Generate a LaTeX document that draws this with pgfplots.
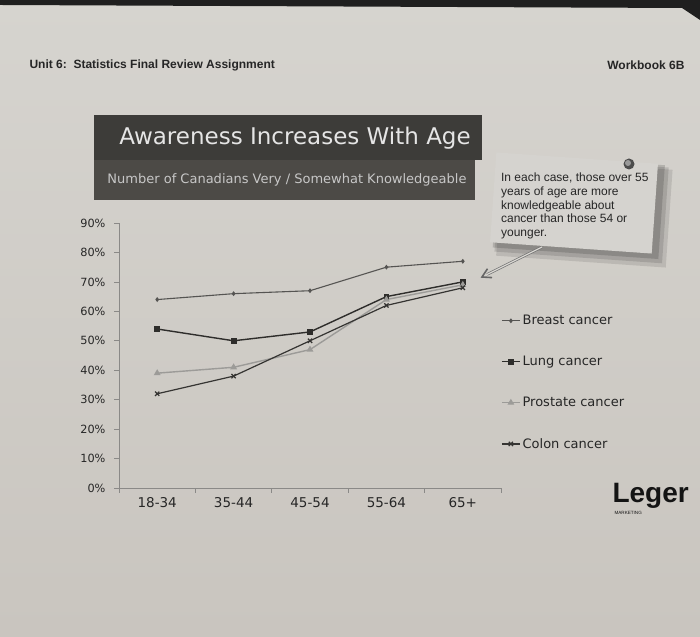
\documentclass[border=0pt]{standalone}
\usepackage{fontspec}
\setmainfont{DejaVu Sans}
\newfontfamily\lib{Liberation Sans}
\usepackage{pgfplots}
\pgfplotsset{compat=1.18}

\definecolor{paperTop}{HTML}{D6D4CF}
\definecolor{paperBot}{HTML}{C9C5BF}
\definecolor{axisgray}{HTML}{8A8987}
\definecolor{textc}{HTML}{262626}
\definecolor{titlebg}{HTML}{3D3C39}
\definecolor{subbg}{HTML}{4C4A46}
\definecolor{notebg}{HTML}{D5D3CF}
\definecolor{breastc}{HTML}{555452}
\definecolor{lungc}{HTML}{2E2D2B}
\definecolor{prostc}{HTML}{9C9B98}
\definecolor{colonc}{HTML}{353432}

\pgfplotstableread{
x breast lung prostate colon
0 64 54 39 32
1 66 50 41 38
2 67 53 47 50
3 75 65 64 62
4 77 70 69 68
}\awareness

\begin{document}
\begin{tikzpicture}[x=1pt,y=1pt]
% paper
\shade[top color=paperTop, bottom color=paperBot] (0,0) rectangle (700,636);
\fill[black!88] (0,636) -- (700,636) -- (700,616) -- (682,628) -- (0,631) -- cycle;

% page header
\node[anchor=west, font=\lib\bfseries\fontsize{12}{14}\selectfont, text=black!85] at (26,571) {Unit 6:\ \ Statistics Final Review Assignment};
\node[anchor=east, font=\lib\bfseries\fontsize{12}{14}\selectfont, text=black!85] at (688,571) {Workbook 6B};

% title band
\fill[titlebg] (94,521) rectangle (482,476);
\fill[subbg] (94,476) rectangle (475,436);
\node[font=\fontsize{23}{26}\selectfont, text=white!90!black] at (295,498) {Awareness Increases With Age};
\node[font=\fontsize{13}{15}\selectfont, text=white!78!black] at (287,456) {Number of Canadians Very / Somewhat Knowledgeable};

% note card
\begin{scope}[shift={(574,433)}, rotate=-4]
  \fill[black, opacity=0.10] (-74,-58) rectangle (96,40);
  \fill[black, opacity=0.12] (-76,-54) rectangle (92,42);
  \fill[black, opacity=0.15] (-78,-50) rectangle (88,44);
  \fill[notebg] (-81,-45) rectangle (81,45);
  \node[anchor=north west, align=left, inner sep=0pt, text=textc,
        font=\lib\fontsize{12}{13.7}\selectfont] at (-75,25)
    {In each case, those over 55\\years of age are more\\knowledgeable about\\cancer than those 54 or\\younger.};
\end{scope}
\fill[black!70] (629,472) circle (5.5);
\fill[black!40] (628,473) circle (3);
\draw[black!55, line width=0.7pt, double=paperTop, double distance=1.2pt] (542,389) -- (487,361.5);
\draw[black!60, line width=1.6pt] (487.5,367.3) -- (482,359) -- (492,358.4);

% logo
\node[anchor=west, font=\lib\bfseries\fontsize{28}{30}\selectfont, text=black!92] at (609,140) {Leger};
\node[anchor=west, font=\lib\fontsize{4.6}{5}\selectfont, text=black!92] at (611,123) {MARKETING};

\begin{axis}[
  at={(119pt,148pt)}, anchor=south west,
  scale only axis, width=382pt, height=265pt,
  xmin=-0.5, xmax=4.5, ymin=0, ymax=90,
  clip=false,
  axis x line=bottom, axis y line=left,
  axis line style={-, axisgray, line width=0.7pt},
  tick align=outside,
  major tick length=5pt,
  tick style={axisgray, line width=0.7pt},
  xtick={-0.5,0.5,...,4.5},
  xticklabels={,,,,,},
  extra x ticks={0,1,2,3,4},
  extra x tick labels={18-34,35-44,45-54,55-64,65+},
  extra x tick style={major tick length=0pt},
  xticklabel style={font=\fontsize{13.5}{16}\selectfont, text=textc, yshift=-6pt},
  ytick={0,10,...,90},
  yticklabels={0\%,10\%,20\%,30\%,40\%,50\%,60\%,70\%,80\%,90\%},
  yticklabel style={font=\fontsize{11.3}{13}\selectfont, text=textc, xshift=-5pt},
  legend style={at={(1.0,0.66)}, anchor=north west, draw=none, fill=none,
    font=\fontsize{13}{15}\selectfont, text=textc, row sep=26pt, inner sep=0pt},
  legend cell align=left,
  legend image code/.code={\draw[mark repeat=2,mark phase=2] plot coordinates {(0pt,0pt) (9pt,0pt) (18pt,0pt)};},
]
\addplot[breastc, line width=1.1pt, mark=diamond*, mark size=1.6pt] table[x=x, y=breast] {\awareness};
\addlegendentry{Breast cancer}
\addplot[lungc, line width=1.4pt, mark=square*, mark size=2.2pt] table[x=x, y=lung] {\awareness};
\addlegendentry{Lung cancer}
\addplot[prostc, line width=1.4pt, mark=triangle*, mark size=2.6pt] table[x=x, y=prostate] {\awareness};
\addlegendentry{Prostate cancer}
\addplot[colonc, line width=1.2pt, mark=x, mark size=3pt] table[x=x, y=colon] {\awareness};
\addlegendentry{Colon cancer}
\end{axis}
\end{tikzpicture}
\end{document}
